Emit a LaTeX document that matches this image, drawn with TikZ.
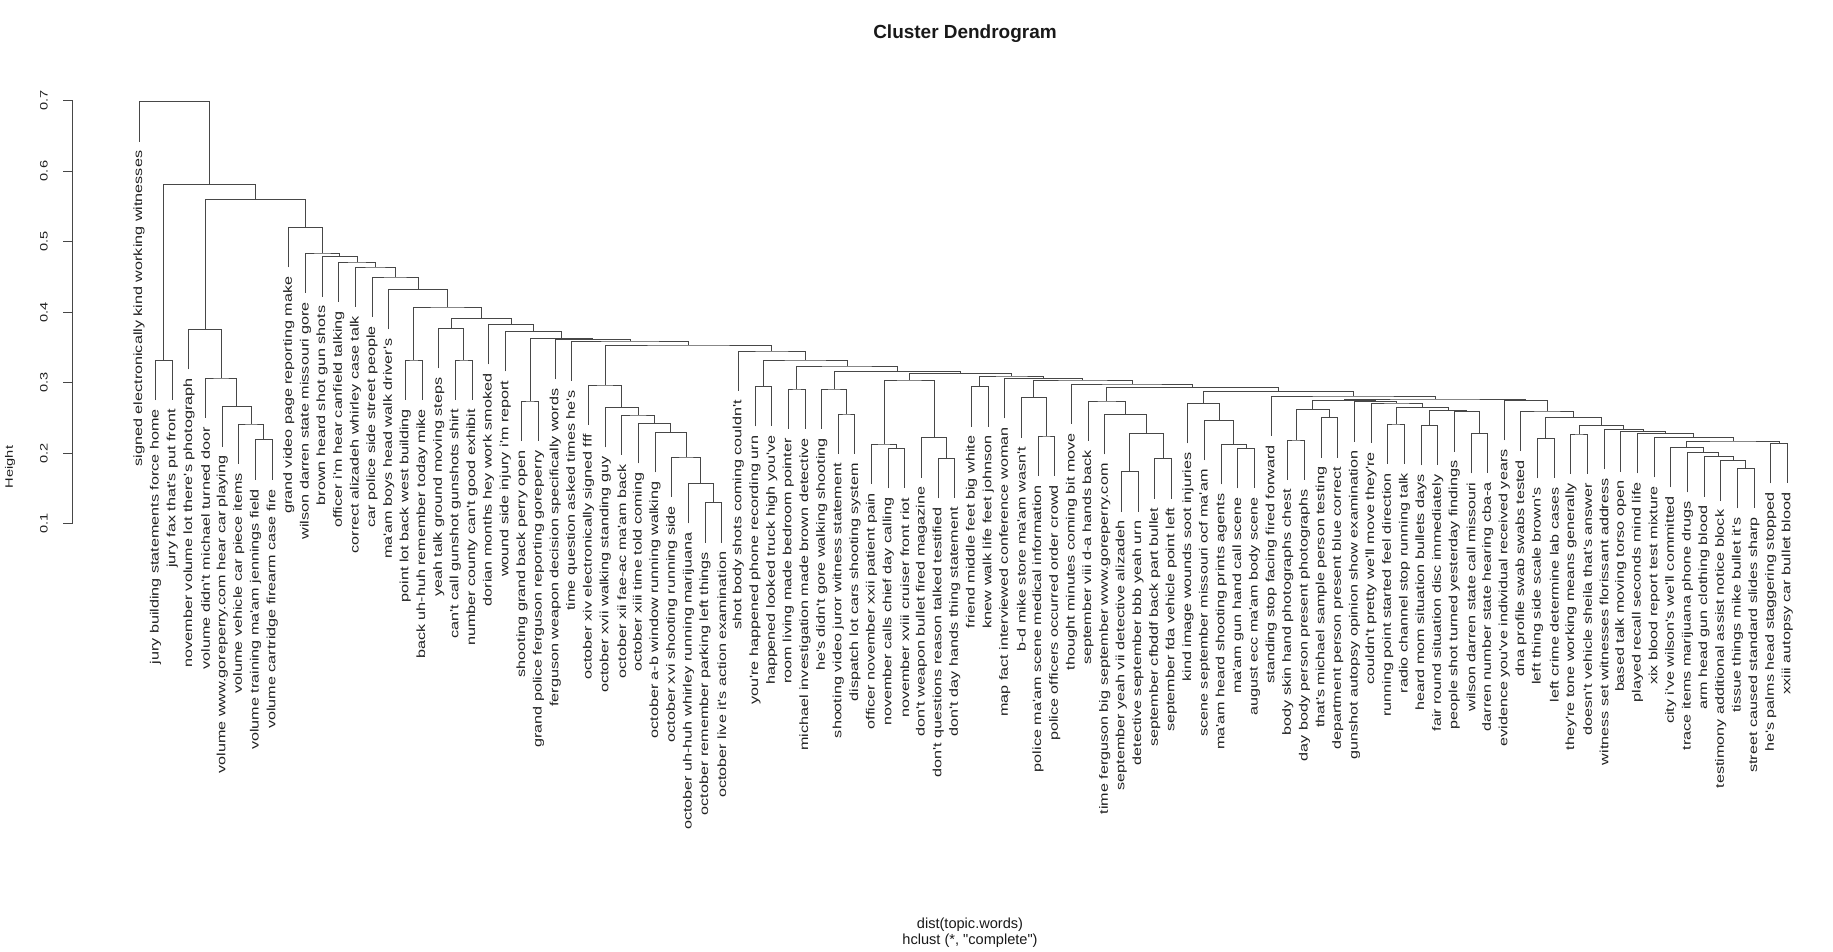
\documentclass[tikz,border=0pt]{standalone}
\usepackage{fontspec}
\newfontfamily\rfont{Liberation Sans}
\usepackage{graphicx}
\usetikzlibrary{calc}

\tikzstyle{link} = [
    line width=0.55pt,
    draw=black!72
]
\tikzstyle{leaflab} = [
    rotate=90,
    anchor=east,
    inner sep=0pt,
    text=black!88,
    font=\rfont\fontsize{9.2}{10}\selectfont
]
\tikzstyle{ticklab} = [
    rotate=90,
    inner sep=0pt,
    text=black!88,
    font=\rfont\fontsize{8.3}{9}\selectfont
]
\tikzstyle{plaintext} = [
    inner sep=0pt,
    text=black!90,
    font=\rfont\fontsize{8.3}{9}\selectfont
]

% labels are set a bit narrow, as in the R output
\newcommand{\narrow}[1]{\scalebox{1}[0.74]{#1}}
% merge two subtrees at a given height
\newcommand{\hmerge}[4]{%
  \path let \p1=($(#2)!0.5!(#3)$), \p2=(0,#4) in coordinate (#1) at (\x1,\y2);
  \draw[link] (#2) |- (#1) -| (#3);}

\begin{document}
\begin{tikzpicture}[x=0.02cm, y=-0.02cm]
\useasboundingbox (0,0) rectangle (1833,952);

\node[plaintext, font=\rfont\bfseries\fontsize{10.8}{12}\selectfont] (title) at (965,34) {Cluster Dendrogram};
\node[plaintext] (xlab) at (970,925) {dist(topic.words)};
\node[plaintext] (sub) at (970,941) {hclust (*, "complete")};

% height axis
\draw[link] (72,100.5) -- (72,523.7);
\foreach \v [count=\k] in {0.1,0.2,0.3,0.4,0.5,0.6,0.7} {
  \draw[link] (63,{594.2-\v*705.3}) -- (72,{594.2-\v*705.3});
  \node[ticklab] (tick\k) at (44,{594.2-\v*705.3}) {\narrow{\v}};
}
\node[ticklab] (ylab) at (10,467) {\narrow{Height}};

% leaves: end of the hanging line / label
\foreach \h/\lab [count=\i] in {
141.7/signed electronically kind working witnesses,
400.1/jury building statements force home,
400.1/jury fax that's put front,
369.4/november volume lot there's photograph,
418/volume didn't michael turned door,
446.6/volume www.goreperry.com hear car playing,
464/volume vehicle car piece items,
479.9/volume training ma'am jennings field,
479.9/volume cartridge firearm case fire,
267.5/grand video page reporting make,
293/wilson darren state missouri gore,
296.7/brown heard shot gun shots,
302/officer i'm hear canfield talking,
307/correct alizadeh whirley case talk,
317/car police side street people,
329.5/ma'am boys head walk driver's,
400/point lot back west building,
400/back uh-huh remember today mike,
368.5/yeah talk ground moving steps,
400/can't call gunshot gunshots shirt,
400/number county can't good exhibit,
364.5/dorian months hey work smoked,
371.5/wound side injury i'm report,
441/shooting grand back perry open,
441/grand police ferguson reporting goreperry,
379.5/ferguson weapon decision specifically words,
381/time question asked times he's,
425/october xiv electronically signed fff,
447.3/october xvii walking standing guy,
455/october xii fae-ac ma'am back,
463.3/october xiii time told coming,
472.3/october a-b window running walking,
497/october xvi shooting running side,
523.3/october uh-huh whirley running marijuana,
542.8/october remember parking left things,
542.8/october live it's action examination,
391/shot body shots coming couldn't,
426.5/you're happened phone recording urn,
426.5/happened looked truck high you've,
429/room living made bedroom pointer,
429/michael investigation made brown detective,
429/he's didn't gore walking shooting,
454/shooting video juror witness statement,
454/dispatch lot cars shooting system,
484/officer november xxii patient pain,
488.5/november calls chief day calling,
488.5/november xviii cruiser front riot,
477.7/don't weapon bullet fired magazine,
498.3/don't questions reason talked testified,
498.3/don't day hands thing statement,
426.7/friend middle feet big white,
426.7/knew walk life feet johnson,
418.3/map fact interviewed conference woman,
437.7/b-d mike store ma'am wasn't,
476/police ma'am scene medical information,
476/police officers occurred order crowd,
424/thought minutes coming bit move,
441/september viii d-a hands back,
454.3/time ferguson big september www.goreperry.com,
511.7/september yeah vii detective alizadeh,
511.7/detective september bbb yeah urn,
498.7/september cfbddf back part bullet,
498.7/september fda vehicle point left,
443.3/kind image wounds soot injuries,
460.3/scene september missouri ocf ma'am,
484.3/ma'am heard shooting prints agents,
488.3/ma'am gun hand call scene,
488.3/august ecc ma'am body scene,
436/standing stop facing fired forward,
480/body skin hand photographs chest,
480/day body person present photographs,
457.7/that's michael sample person testing,
457.7/department person present blue correct,
441.7/gunshot autopsy opinion show examination,
443/couldn't pretty we'll move they're,
464/running point started feel direction,
464/radio channel stop running talk,
465.3/heard mom situation bullets days,
465.3/fair round situation disc immediately,
451.7/people shot turned yesterday findings,
473.3/wilson darren state call missouri,
473.3/darren number state hearing cba-a,
440.3/evidence you've individual received years,
451/dna profile swab swabs tested,
478.3/left thing side scale brown's,
478.3/left crime determine lab cases,
474/they're tone working means generally,
474/doesn't vehicle sheila that's answer,
469.3/witness set witnesses florissant address,
471.7/based talk moving torso open,
473.3/played recall seconds mind life,
477.3/xix blood report test mixture,
487.3/city i've wilson's we'll committed,
492.3/trace items marijuana phone drugs,
496.7/arm head gun clothing blood,
500.7/testimony additional assist notice block,
508.3/tissue things mike bullet it's,
508.3/street caused standard slides sharp,
483.3/he's palms head staggering stopped,
483.3/xxiii autopsy car bullet blood} {
  \coordinate (l\i) at ({139+(\i-1)*16.65},\h);
  \node[leaflab] (t\i) at ([yshift=-5pt]l\i) {\narrow{\lab}};
}

% merges, from the bottom up
\hmerge{m8t9}{l8}{l9}{439.9}
\hmerge{m7t9}{l7}{m8t9}{424}
\hmerge{m6t9}{l6}{m7t9}{406.6}
\hmerge{m5t9}{l5}{m6t9}{378}
\hmerge{m4t9}{l4}{m5t9}{329.4}
\hmerge{m2t3}{l2}{l3}{360.1}
\hmerge{m17t18}{l17}{l18}{360}
\hmerge{m20t21}{l20}{l21}{360}
\hmerge{m19t21}{l19}{m20t21}{328.5}
\hmerge{m24t25}{l24}{l25}{401}
\hmerge{m35t36}{l35}{l36}{502.8}
\hmerge{m34t36}{l34}{m35t36}{483.3}
\hmerge{m33t36}{l33}{m34t36}{457}
\hmerge{m32t36}{l32}{m33t36}{432.3}
\hmerge{m31t36}{l31}{m32t36}{423.3}
\hmerge{m30t36}{l30}{m31t36}{415}
\hmerge{m29t36}{l29}{m30t36}{407.3}
\hmerge{m28t36}{l28}{m29t36}{385}
\hmerge{m38t39}{l38}{l39}{386.5}
\hmerge{m40t41}{l40}{l41}{389}
\hmerge{m43t44}{l43}{l44}{414}
\hmerge{m42t44}{l42}{m43t44}{389}
\hmerge{m46t47}{l46}{l47}{448.5}
\hmerge{m45t47}{l45}{m46t47}{444}
\hmerge{m49t50}{l49}{l50}{458.3}
\hmerge{m48t50}{l48}{m49t50}{437.7}
\hmerge{m45t50}{m45t47}{m48t50}{380}
\hmerge{m51t52}{l51}{l52}{386.7}
\hmerge{m55t56}{l55}{l56}{436}
\hmerge{m54t56}{l54}{m55t56}{397.7}
\hmerge{m60t61}{l60}{l61}{471.7}
\hmerge{m62t63}{l62}{l63}{458.7}
\hmerge{m60t63}{m60t61}{m62t63}{433.3}
\hmerge{m59t63}{l59}{m60t63}{414.3}
\hmerge{m58t63}{l58}{m59t63}{401}
\hmerge{m67t68}{l67}{l68}{448.3}
\hmerge{m66t68}{l66}{m67t68}{444.3}
\hmerge{m65t68}{l65}{m66t68}{420.3}
\hmerge{m64t68}{l64}{m65t68}{403.3}
\hmerge{m70t71}{l70}{l71}{440}
\hmerge{m72t73}{l72}{l73}{417.7}
\hmerge{m70t73}{m70t71}{m72t73}{409.3}
\hmerge{m81t82}{l81}{l82}{433.3}
\hmerge{m80t82}{l80}{m81t82}{411.7}
\hmerge{m78t79}{l78}{l79}{425.3}
\hmerge{m78t82}{m78t79}{m80t82}{410.7}
\hmerge{m76t77}{l76}{l77}{424}
\hmerge{m76t82}{m76t77}{m78t82}{407.7}
\hmerge{m75t82}{l75}{m76t82}{403}
\hmerge{m74t82}{l74}{m75t82}{401.7}
\hmerge{m70t82}{m70t73}{m74t82}{400.5}
\hmerge{m97t98}{l97}{l98}{468.3}
\hmerge{m96t98}{l96}{m97t98}{460.7}
\hmerge{m95t98}{l95}{m96t98}{456.7}
\hmerge{m94t98}{l94}{m95t98}{452.3}
\hmerge{m93t98}{l93}{m94t98}{447.3}
\hmerge{m99t100}{l99}{l100}{443.3}
\hmerge{m93t100}{m93t98}{m99t100}{441}
\hmerge{m92t100}{l92}{m93t100}{437.3}
\hmerge{m91t100}{l91}{m92t100}{433.3}
\hmerge{m90t100}{l90}{m91t100}{431.7}
\hmerge{m89t100}{l89}{m90t100}{429.3}
\hmerge{m87t88}{l87}{l88}{434}
\hmerge{m87t100}{m87t88}{m89t100}{425.7}
\hmerge{m85t86}{l85}{l86}{438.3}
\hmerge{m85t100}{m85t86}{m87t100}{417.3}
\hmerge{m84t100}{l84}{m85t100}{411}
\hmerge{m83t100}{l83}{m84t100}{400.3}
\hmerge{m70t100}{m70t82}{m83t100}{399}
\hmerge{m69t100}{l69}{m70t100}{396}
\hmerge{m64t100}{m64t68}{m69t100}{391.7}
\hmerge{m58t100}{m58t63}{m64t100}{387.3}
\hmerge{m57t100}{l57}{m58t100}{384}
\hmerge{m54t100}{m54t56}{m57t100}{380}
\hmerge{m53t100}{l53}{m54t100}{378.3}
\hmerge{m51t100}{m51t52}{m53t100}{376}
\hmerge{m45t100}{m45t50}{m51t100}{373.3}
\hmerge{m42t100}{m42t44}{m45t100}{371.5}
\hmerge{m40t100}{m40t41}{m42t100}{366}
\hmerge{m38t100}{m38t39}{m40t100}{360}
\hmerge{m37t100}{l37}{m38t100}{351}
\hmerge{m28t100}{m28t36}{m37t100}{345}
\hmerge{m27t100}{l27}{m28t100}{341}
\hmerge{m26t100}{l26}{m27t100}{339.5}
\hmerge{m24t100}{m24t25}{m26t100}{338.3}
\hmerge{m23t100}{l23}{m24t100}{331.5}
\hmerge{m22t100}{l22}{m23t100}{324.5}
\hmerge{m19t100}{m19t21}{m22t100}{318.5}
\hmerge{m17t100}{m17t18}{m19t100}{307}
\hmerge{m16t100}{l16}{m17t100}{289.5}
\hmerge{m15t100}{l15}{m16t100}{277}
\hmerge{m14t100}{l14}{m15t100}{267}
\hmerge{m13t100}{l13}{m14t100}{262}
\hmerge{m12t100}{l12}{m13t100}{256.7}
\hmerge{m11t100}{l11}{m12t100}{253}
\hmerge{m10t100}{l10}{m11t100}{227.5}
\hmerge{m4t100}{m4t9}{m10t100}{199.4}
\hmerge{m2t100}{m2t3}{m4t100}{184.1}
\hmerge{m1t100}{l1}{m2t100}{101.7}

\end{tikzpicture}
\end{document}
